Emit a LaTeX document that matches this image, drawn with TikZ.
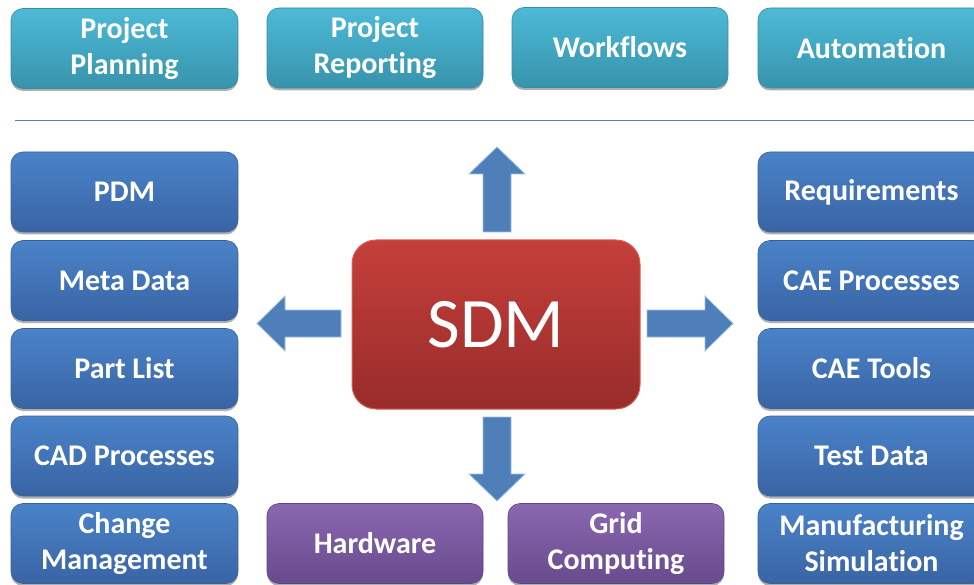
\documentclass[tikz,border=0pt]{standalone}
\usepackage{fontspec}
\setmainfont{Carlito}[Ligatures={NoCommon,NoContextual,NoRare}]
\usetikzlibrary{shadows}
% keep "t" and "i" as separate glyphs
\newcommand{\tsep}{t\kern0pt }

\definecolor{tealT}{HTML}{4DBAD6}
\definecolor{tealB}{HTML}{3793AC}
\definecolor{tealE}{HTML}{3A8AA0}
\definecolor{blueT}{HTML}{4A83C9}
\definecolor{blueB}{HTML}{3964A4}
\definecolor{blueE}{HTML}{3A5F98}
\definecolor{purpT}{HTML}{8A68B0}
\definecolor{purpB}{HTML}{694A8D}
\definecolor{purpE}{HTML}{5F4483}
\definecolor{redT}{HTML}{C53F3B}
\definecolor{redB}{HTML}{982C2A}
\definecolor{redE}{HTML}{D8605A}
\definecolor{arrowfill}{HTML}{4F7FB8}
\definecolor{arrowedge}{HTML}{9CBEE6}
\definecolor{rulecol}{HTML}{4F81BD}

\tikzset{
  tile/.style={rounded corners=12pt, minimum width=227pt, minimum height=80pt,
    inner sep=0pt, align=center, text=white, font=\bfseries\fontsize{30}{36}\selectfont,
    drop shadow={shadow xshift=0pt, shadow yshift=-2.5pt, opacity=0.45, fill=black!70}},
  tealtile/.style={tile, top color=tealT, bottom color=tealB, draw=tealE, line width=0.6pt},
  bluetile/.style={tile, top color=blueT, bottom color=blueB, draw=blueE, line width=0.6pt},
  purptile/.style={tile, top color=purpT, bottom color=purpB, draw=purpE, line width=0.6pt},
  coretile/.style={rounded corners=24pt, minimum width=288pt, minimum height=169pt,
    inner sep=0pt, text=white, font=\fontsize{71}{80}\selectfont,
    top color=redT, bottom color=redB, draw=redE, line width=1pt},
  blockarrow/.style={fill=arrowfill, draw=arrowedge, line width=0.8pt, line join=miter},
}

\begin{document}
\begin{tikzpicture}[x=1pt, y=-1pt]
  \useasboundingbox (0,0) rectangle (974,585);
  \clip (0,0) rectangle (974,585);

  % top row of services
  \node[tealtile] (plan)  at (124.5,48.5) {Project\\Planning};
  \node[tealtile, minimum width=216pt] (report) at (375,48) {Project\\Repor\tsep ing};
  \node[tealtile, minimum width=216pt] (flow)   at (620,47.5) {Workflows};
  \node[tealtile] (auto)  at (871.5,48) {Automa\tsep ion};

  % separator rule
  \coordinate (ruleL) at (15,120.5);
  \coordinate (ruleR) at (974,120.5);
  \draw[rulecol, line width=1.2pt] (ruleL) -- (ruleR);

  % left column
  \node[bluetile] (pdm)  at (124.5,192) {PDM};
  \node[bluetile] (meta) at (124.5,280.5) {Meta Data};
  \node[bluetile] (part) at (124.5,368.5) {Part List};
  \node[bluetile] (cad)  at (124.5,456) {CAD Processes};
  \node[bluetile] (chg)  at (124.5,543.5) {Change\\Management};

  % right column
  \node[bluetile] (req)  at (871.5,192) {Requirements};
  \node[bluetile] (caep) at (871.5,280.5) {CAE Processes};
  \node[bluetile] (caet) at (871.5,368.5) {CAE Tools};
  \node[bluetile] (test) at (871.5,456) {Test Data};
  \node[bluetile] (manu) at (871.5,543.5) {Manufacturing\\Simula\tsep ion};

  % bottom row
  \node[purptile, minimum width=216pt] (hw)   at (375,543.5) {Hardware};
  \node[purptile, minimum width=216pt] (grid) at (616,543.5) {Grid\\Compu\tsep ing};

  % central box
  \node[coretile] (sdm) at (496,324.5) {SDM};

  % block arrows radiating from the centre
  \draw[blockarrow] (483,232) -- (483,174) -- (469,174) -- (497,147)
     -- (525,174) -- (511,174) -- (511,232) -- cycle;
  \draw[blockarrow] (483,417) -- (483,474) -- (469,474) -- (497,501)
     -- (525,474) -- (511,474) -- (511,417) -- cycle;
  \draw[blockarrow] (341,310) -- (285,310) -- (285,296) -- (257,323.5)
     -- (285,351) -- (285,337) -- (341,337) -- cycle;
  \draw[blockarrow] (647,310) -- (705,310) -- (705,296) -- (733,323.5)
     -- (705,351) -- (705,337) -- (647,337) -- cycle;
\end{tikzpicture}
\end{document}
